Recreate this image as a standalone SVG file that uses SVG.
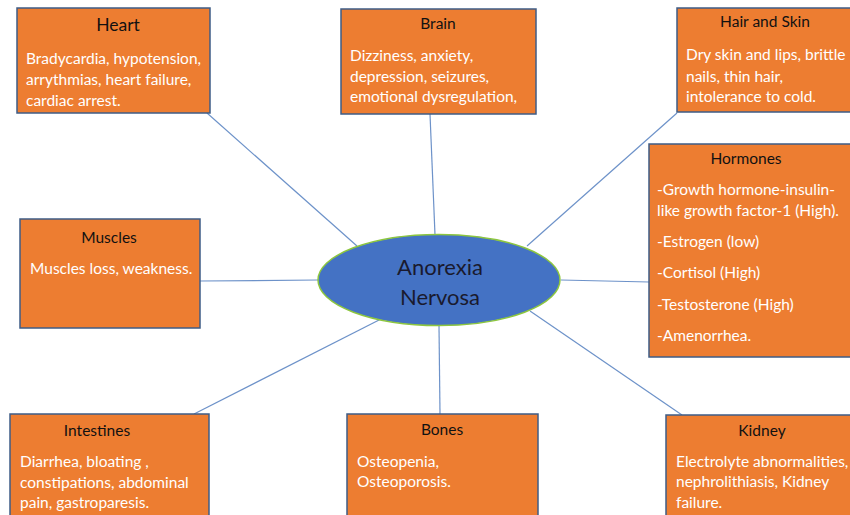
<svg xmlns="http://www.w3.org/2000/svg" width="850" height="515" viewBox="0 0 850 515">
<style>
.box{fill:#ED7D31;stroke:#3E5C86;stroke-width:1.5}
.t{font-family:Lato,"Liberation Sans",sans-serif;font-size:15.5px;fill:#111;text-anchor:middle}
.b{font-family:Lato,"Liberation Sans",sans-serif;font-size:15.5px;fill:#fff}
.c line{stroke:#6D92C9;stroke-width:1.2}
.e{font-family:Lato,"Liberation Sans",sans-serif;font-size:22px;fill:#1a1a2e;text-anchor:middle}
</style>
<rect width="850" height="515" fill="#fff"/>
<g class="c" id="connectors">
<line x1="207" y1="113" x2="357" y2="246"/>
<line x1="430" y1="114" x2="435" y2="235"/>
<line x1="677" y1="113" x2="527" y2="246"/>
<line x1="561" y1="280" x2="649" y2="282"/>
<line x1="200" y1="281" x2="318" y2="280"/>
<line x1="194" y1="414" x2="381" y2="319"/>
<line x1="439" y1="326" x2="440" y2="414"/>
<line x1="530" y1="311" x2="682" y2="415"/>
</g>
<g id="heart">
<rect class="box" x="17" y="8" width="193" height="105"/>
<text class="t" x="118" y="31" style="font-size:17.5px">Heart</text>
<text class="b" x="26" y="64">Bradycardia, hypotension,</text>
<text class="b" x="26" y="85">arrythmias, heart failure,</text>
<text class="b" x="26" y="106">cardiac arrest.</text>
</g>
<g id="brain">
<rect class="box" x="341" y="9" width="195" height="105"/>
<text class="t" x="438" y="29">Brain</text>
<text class="b" x="350" y="61">Dizziness, anxiety,</text>
<text class="b" x="350" y="82">depression, seizures,</text>
<text class="b" x="350" y="102">emotional dysregulation,</text>
</g>
<g id="hair">
<rect class="box" x="677" y="8" width="176" height="104"/>
<text class="t" x="765" y="27">Hair and Skin</text>
<text class="b" x="686" y="60">Dry skin and lips, brittle</text>
<text class="b" x="686" y="82">nails, thin hair,</text>
<text class="b" x="686" y="102">intolerance to cold.</text>
</g>
<g id="hormones">
<rect class="box" x="649" y="144" width="204" height="213"/>
<text class="t" x="746" y="164">Hormones</text>
<text class="b" x="657" y="195">-Growth hormone-insulin-</text>
<text class="b" x="657" y="216">like growth factor-1 (High).</text>
<text class="b" x="657" y="247">-Estrogen (low)</text>
<text class="b" x="657" y="278">-Cortisol (High)</text>
<text class="b" x="657" y="310">-Testosterone (High)</text>
<text class="b" x="657" y="341">-Amenorrhea.</text>
</g>
<g id="muscles">
<rect class="box" x="20" y="219" width="180" height="109"/>
<text class="t" x="109" y="243">Muscles</text>
<text class="b" x="30" y="274">Muscles loss, weakness.</text>
</g>
<g id="center">
<ellipse cx="439" cy="280" rx="121" ry="45.5" fill="#4472C4" stroke="#8DC63F" stroke-width="1.5"/>
<text class="e" x="440" y="275">Anorexia</text>
<text class="e" x="440" y="305">Nervosa</text>
</g>
<g id="intestines">
<rect class="box" x="10" y="414" width="199" height="106"/>
<text class="t" x="97" y="436">Intestines</text>
<text class="b" x="20" y="467">Diarrhea, bloating ,</text>
<text class="b" x="20" y="488">constipations, abdominal</text>
<text class="b" x="20" y="508">pain, gastroparesis.</text>
</g>
<g id="bones">
<rect class="box" x="347" y="414" width="191" height="106"/>
<text class="t" x="442" y="435">Bones</text>
<text class="b" x="357" y="467">Osteopenia,</text>
<text class="b" x="357" y="487">Osteoporosis.</text>
</g>
<g id="kidney">
<rect class="box" x="666" y="415" width="187" height="105"/>
<text class="t" x="762" y="436">Kidney</text>
<text class="b" x="676" y="467">Electrolyte abnormalities,</text>
<text class="b" x="676" y="487">nephrolithiasis, Kidney</text>
<text class="b" x="676" y="508">failure.</text>
</g>
</svg>
